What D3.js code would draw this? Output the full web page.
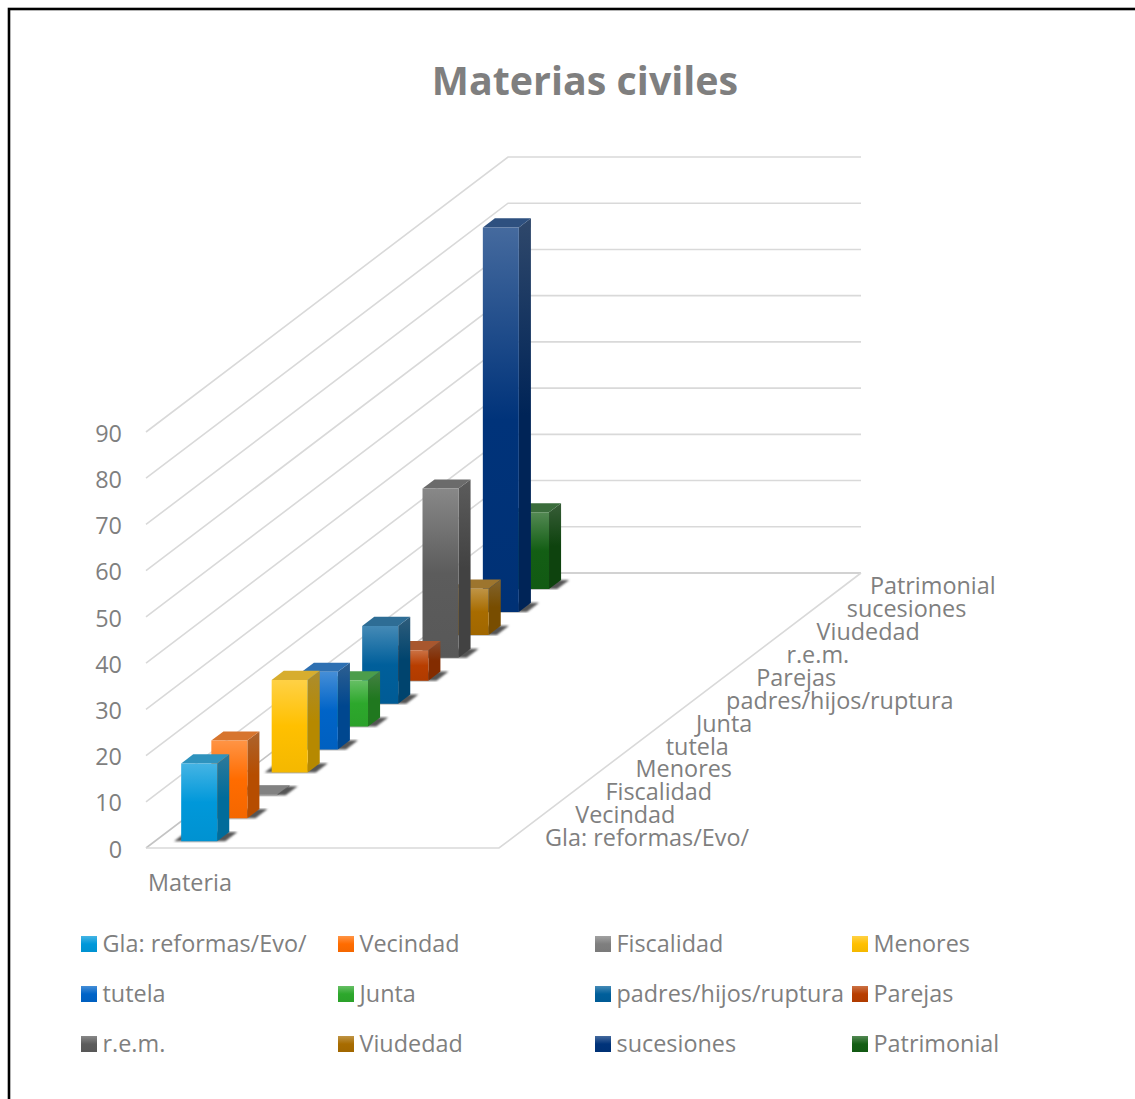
<!DOCTYPE html>
<html>
<head>
<meta charset="utf-8">
<style>
  html, body { margin: 0; padding: 0; background: #fff; }
  svg { display: block; }
  text { font-family: "Open Sans", sans-serif; fill: #7f7f7f; }
</style>
</head>
<body>
<div id="chart"></div>
<script src="https://cdn.jsdelivr.net/npm/d3@7"></script>
<script>
// data
const categories = ['Gla: reformas/Evo/', 'Vecindad', 'Fiscalidad', 'Menores', 'tutela', 'Junta',
  'padres/hijos/ruptura', 'Parejas', 'r.e.m.', 'Viudedad', 'sucesiones', 'Patrimonial'];
const values = [16.8, 16.8, 0.2, 20, 16.8, 10, 16.8, 6.6, 36.6, 10, 83.2, 16.6];
const colors = ['#0098da', '#ff6c00', '#7f7f7f', '#ffc000', '#0064c8', '#2da82c',
  '#005f9b', '#b83e00', '#5c5c5c', '#a86c00', '#00337a', '#135e14'];
const yTicks = d3.range(0, 100, 10);
const chartTitle = 'Materias civiles';
const axisTitle = 'Materia';

const width = 1135, height = 1099;
const svg = d3.select('#chart').append('svg')
  .attr('width', width)
  .attr('height', height);

// oblique 3d projection: across the floor, into the depth, and up the value axis
const across = d3.scaleLinear().domain([0, 1]).range([0, 353]);
const depthX = d3.scaleLinear().domain([0, 1]).range([0, 362]);
const depthY = d3.scaleLinear().domain([0, 1]).range([0, 275]);
const yScale = d3.scaleLinear().domain([0, 90]).range([0, 416]);
const project = (a, d, v) => [
  146 + across(a) + depthX(d),
  848 - depthY(d) - yScale(v)
];
const depth = d3.scaleBand().domain(categories).range([0, 1]).paddingInner(0.6).paddingOuter(0.3);
const bar = d3.scaleLinear().domain([0, 1]).range([0.074, 0.176]);
const poly = pts => pts.map(p => p.join(',')).join(' ');

// frame, only top and left show inside the picture
svg.append('rect')
  .attr('x', 9).attr('y', 9)
  .attr('width', width + 20).attr('height', height + 20)
  .attr('fill', 'none').attr('stroke', '#000').attr('stroke-width', 2.6);

svg.append('text')
  .attr('x', 585).attr('y', 95)
  .attr('text-anchor', 'middle')
  .style('font-size', '39.4px').style('font-weight', 700)
  .text(chartTitle);

const defs = svg.append('defs');
defs.append('filter').attr('id', 'soft')
  .append('feGaussianBlur').attr('stdDeviation', 0.9);

const gradient = (id, top, mid, bottom) => {
  const g = defs.append('linearGradient').attr('id', id)
    .attr('x1', 0).attr('y1', 0).attr('x2', 0).attr('y2', 1);
  g.append('stop').attr('offset', '0%').attr('stop-color', top);
  g.append('stop').attr('offset', '50%').attr('stop-color', mid);
  g.append('stop').attr('offset', '100%').attr('stop-color', bottom);
};
const light = c => d3.interpolateRgb(c, '#ffffff')(0.27);
colors.forEach((c, i) => {
  gradient('front' + i, light(c), c, d3.color(c).darker(0.12).formatHex());
  const side = d3.color(c).darker(0.95).formatHex();
  gradient('side' + i, d3.color(light(c)).darker(1.1).formatHex(), side, side);
});

// grid on the walls and the floor
const grid = svg.append('g').attr('fill', 'none').attr('stroke', '#d9d9d9').attr('stroke-width', 1.6);
yTicks.forEach(t => {
  const line = [project(0, 0, t), project(0, 1, t), project(1, 1, t)];
  grid.append('polyline')
    .attr('points', poly(line))
    .attr('stroke', t === 0 ? '#c4c4c4' : '#d9d9d9');
});
grid.append('polyline')
  .attr('points', poly([project(0, 0, 0), project(1, 0, 0), project(1, 1, 0)]));

// value axis
svg.append('g').selectAll('text')
  .data(yTicks)
  .join('text')
  .attr('x', 122)
  .attr('y', d => project(0, 0, d)[1] + 1.5)
  .attr('dy', '0.35em')
  .attr('text-anchor', 'end')
  .style('font-size', '23.4px')
  .text(d => d);

// series labels along the depth axis, the last one sits a little closer to the floor
svg.append('g').selectAll('text')
  .data(categories)
  .join('text')
  .attr('x', (d, i) => project(1, depth(d) + depth.bandwidth() / 2, 0)[0] + (i === 11 ? 24 : 31))
  .attr('y', d => project(1, depth(d) + depth.bandwidth() / 2, 0)[1] + 1.5)
  .attr('dy', '0.35em')
  .style('font-size', '23.4px')
  .text(d => d);

svg.append('text')
  .attr('x', 148).attr('y', 883)
  .attr('dy', '0.35em')
  .style('font-size', '23.4px')
  .text(axisTitle);

// bars, back to front so the nearer ones cover the others
const rows = categories.map((name, i) => ({name, i, value: values[i], color: colors[i]})).reverse();
const g = svg.append('g').selectAll('g').data(rows).join('g');

g.append('polygon')
  .attr('points', d => {
    const d0 = depth(d.name), d1 = d0 + depth.bandwidth();
    return poly([project(bar(0) - 0.02, d0, 0), project(bar(1) + 0.023, d0, 0),
      project(bar(1) + 0.023, d1, 0), project(bar(0) - 0.02, d1, 0)]);
  })
  .attr('fill', '#555')
  .attr('filter', 'url(#soft)');

g.append('polygon')
  .attr('points', d => {
    const d0 = depth(d.name), d1 = d0 + depth.bandwidth();
    return poly([project(bar(1), d0, 0), project(bar(1), d1, 0), project(bar(1), d1, d.value), project(bar(1), d0, d.value)]);
  })
  .attr('fill', d => `url(#side${d.i})`);

g.append('polygon')
  .attr('points', d => {
    const d0 = depth(d.name), d1 = d0 + depth.bandwidth();
    return poly([project(bar(0), d0, d.value), project(bar(1), d0, d.value), project(bar(1), d1, d.value), project(bar(0), d1, d.value)]);
  })
  .attr('fill', d => d3.interpolateRgb(d3.color(d.color).darker(0.6), '#ffffff')(0.18));

g.append('polygon')
  .attr('points', d => {
    const d0 = depth(d.name);
    return poly([project(bar(0), d0, 0), project(bar(1), d0, 0), project(bar(1), d0, d.value), project(bar(0), d0, d.value)]);
  })
  .attr('fill', d => `url(#front${d.i})`);

// legend, four columns by three rows
const legendX = d3.scalePoint().domain(d3.range(4)).range([81, 852]);
const legendY = d3.scalePoint().domain(d3.range(3)).range([944, 1044]);
const item = svg.append('g').selectAll('g')
  .data(categories)
  .join('g')
  .attr('transform', (d, i) => `translate(${legendX(i % 4)},${legendY(Math.floor(i / 4))})`);
item.append('rect')
  .attr('y', -8).attr('width', 16).attr('height', 16)
  .attr('fill', (d, i) => `url(#front${i})`);
item.append('text')
  .attr('x', 21.5)
  .attr('dy', '0.35em')
  .style('font-size', '23.4px')
  .text(d => d);
</script>
</body>
</html>
